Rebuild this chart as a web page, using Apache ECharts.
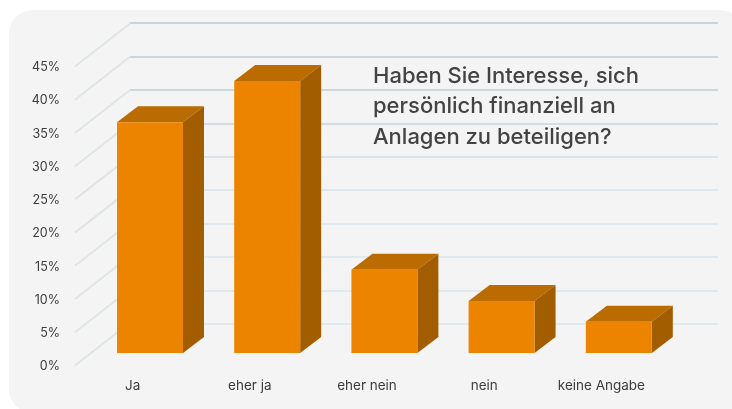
<!DOCTYPE html>
<html>
<head>
<meta charset="utf-8">
<style>html,body{margin:0;background:#fff}#main{width:732px;height:409px}</style>
<script src="https://cdn.jsdelivr.net/npm/echarts@6/dist/echarts.min.js"></script>
</head>
<body>
<div id="main"></div>
<script>
var categories = ['Ja', 'eher ja', 'eher nein', 'nein', 'keine Angabe'];
var values = [34.6, 40.8, 12.5, 7.8, 4.7];
var ticks = [0, 5, 10, 15, 20, 25, 30, 35, 40, 45];
var title = 'Haben Sie Interesse, sich\npersönlich finanziell an\nAnlagen zu beteiligen?';
var font = 'Inter';

var myChart = echarts.init(document.getElementById('main'));

var option = {
    animation: false,
    backgroundColor: '#fff',
    title: {
        text: title,
        left: 368,
        top: 56,
        textStyle: { fontFamily: font, fontSize: 22, fontWeight: 500, color: '#434343', lineHeight: 30.5 }
    },
    graphic: [{
        type: 'rect', z: -10,
        shape: { x: 9, y: 10, width: 735, height: 403, r: [24, 24, 0, 24] },
        style: { fill: '#f4f4f4' }
    }],
    grid: [
        // 0: front face of the bars
        { left: 91.4, width: 586, top: 53, height: 300 },
        // 1: labels, sits lower and more to the left
        { left: 74, width: 586, top: 67.5, height: 299 },
        // 2: back wall
        { left: 130, right: 14, top: 23, height: 301 }
    ],
    xAxis: [
        { gridIndex: 0, type: 'category', data: categories, show: false },
        {
            gridIndex: 1, type: 'category', data: categories,
            axisLine: { show: false }, axisTick: { show: false },
            axisLabel: { margin: 12, interval: 0, fontFamily: font, fontSize: 13.5, color: '#3c3c3c' }
        },
        { gridIndex: 2, type: 'category', data: categories, show: false }
    ],
    yAxis: [
        { gridIndex: 0, type: 'value', min: 0, max: 45, show: false, splitLine: { show: false } },
        {
            gridIndex: 1, type: 'value', min: 0, max: 45, interval: 5,
            axisLine: { show: false }, axisTick: { show: false }, splitLine: { show: false },
            axisLabel: { margin: 14, fontFamily: font, fontSize: 12.5, color: '#3c3c3c', formatter: '{value}%' }
        },
        {
            gridIndex: 2, type: 'value', min: 0, max: 45, interval: 5,
            axisLine: { show: false }, axisTick: { show: false }, axisLabel: { show: false },
            splitLine: {
                lineStyle: {
                    width: 2,
                    // upper lines are a bit darker in the picture
                    color: ['#deeaee', '#deeaee', '#deeaee', '#deeaee', '#dce8ec', '#d8e4e8', '#d2dde1', '#cdd8dc', '#ccd7db', '#c9d4d8']
                }
            }
        }
    ],
    series: [
        {
            // receding lines on the left side wall
            type: 'custom', xAxisIndex: 1, yAxisIndex: 1, z: 1,
            data: ticks,
            encode: { y: 0 },
            renderItem: function (params, api) {
                var y = api.coord([0, api.value(0)])[1];
                return {
                    type: 'line',
                    shape: { x1: 75, y1: y - 1, x2: 130, y2: y - 44 },
                    style: { stroke: '#dfe5e6', lineWidth: 2 }
                };
            }
        },
        {
            type: 'custom', xAxisIndex: 0, yAxisIndex: 0, z: 2,
            data: values.map(function (v, i) { return [i, v]; }),
            encode: { x: 0, y: 1 },
            renderItem: function (params, api) {
                var top = api.coord([api.value(0), api.value(1)]);
                var base = api.coord([api.value(0), 0]);
                var w = api.size([1, 0])[0] * 0.563;
                var x0 = top[0] - w / 2, x1 = top[0] + w / 2;
                var dx = 21, dy = 16;
                return {
                    type: 'group',
                    children: [
                        { type: 'polygon', shape: { points: [[x0, top[1]], [x0 + dx, top[1] - dy], [x1 + dx, top[1] - dy], [x1, top[1]]] }, style: { fill: '#bb6c00' } },
                        { type: 'polygon', shape: { points: [[x1, top[1]], [x1 + dx, top[1] - dy], [x1 + dx, base[1] - dy], [x1, base[1]]] }, style: { fill: '#a25d00' } },
                        { type: 'rect', shape: { x: x0, y: top[1], width: w, height: base[1] - top[1] }, style: { fill: '#ec8400' } }
                    ]
                };
            }
        }
    ]
};
myChart.setOption(option);
</script>
</body>
</html>
